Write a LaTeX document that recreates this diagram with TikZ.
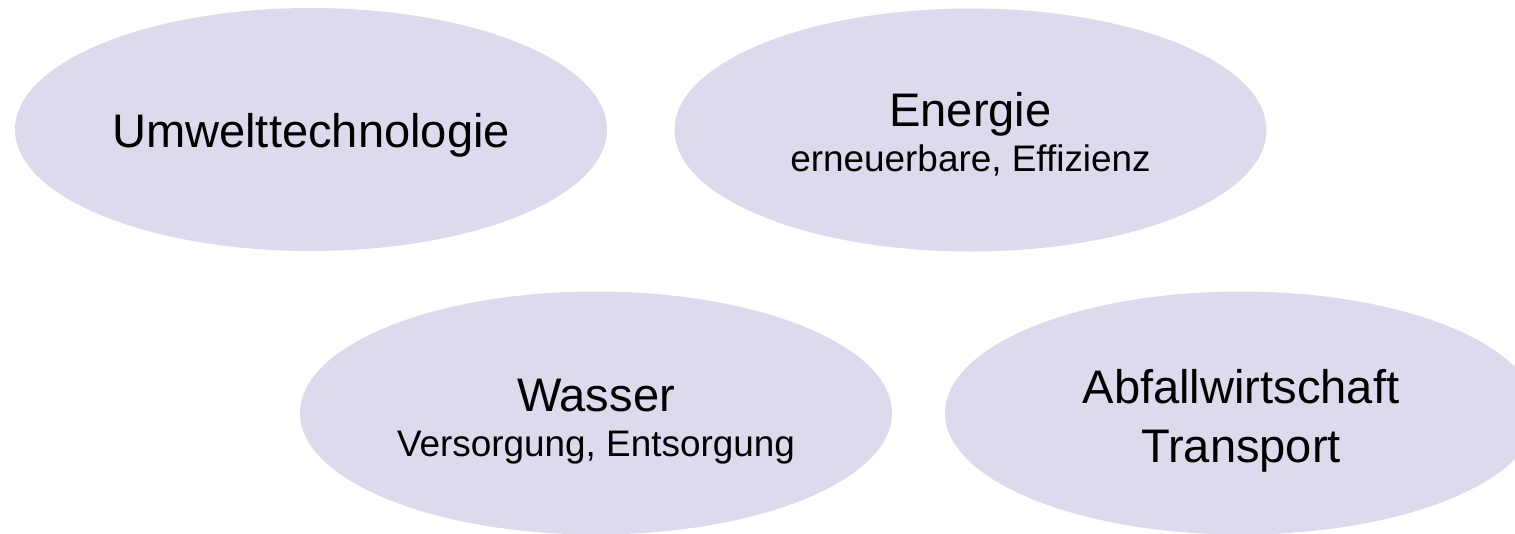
\documentclass[tikz,border=0pt]{standalone}
\usepackage{fontspec}
\setmainfont{Liberation Sans}
\definecolor{ovalfill}{RGB}{221, 218, 237}
\usepackage{tikz}
\usetikzlibrary{shapes.geometric, positioning}

\begin{document}
\begin{tikzpicture}
  \tikzset{
    oval/.style={ellipse, fill=ovalfill, draw=none, inner sep=0pt, minimum width=5.92cm, minimum height=2.43cm},
    big/.style={align=center, inner sep=0pt, font=\fontsize{13.4}{16.8}\selectfont}
  }
  \newcommand{\subline}[1]{{\fontsize{10.5}{12}\selectfont #1}}
  \clip (0, 0) rectangle (15.15, 5.33);

  % Top row
  \node[oval] (umwelt) at (3.11, 4.035) {};
  \node[big] (umwelttext) at ([yshift=-0.06cm]umwelt.center) {Umwelttechnologie};
  \node[oval] (energie) at (9.705, 4.03) {};
  \node[big] (energietext) at ([yshift=-0.04cm]energie.center) {Energie\\[-4pt]\subline{erneuerbare, Effizienz}};

  % Bottom row
  \node[oval] (wasser) at (5.96, 1.20) {};
  \node[big] (wassertext) at ([yshift=-0.09cm]wasser.center) {Wasser\\[-4pt]\subline{Versorgung, Entsorgung}};
  \node[oval] (abfall) at (12.41, 1.20) {};
  \node[big] (abfalltext) at ([yshift=-0.08cm]abfall.center) {Abfallwirtschaft\\Transport};
\end{tikzpicture}
\end{document}
